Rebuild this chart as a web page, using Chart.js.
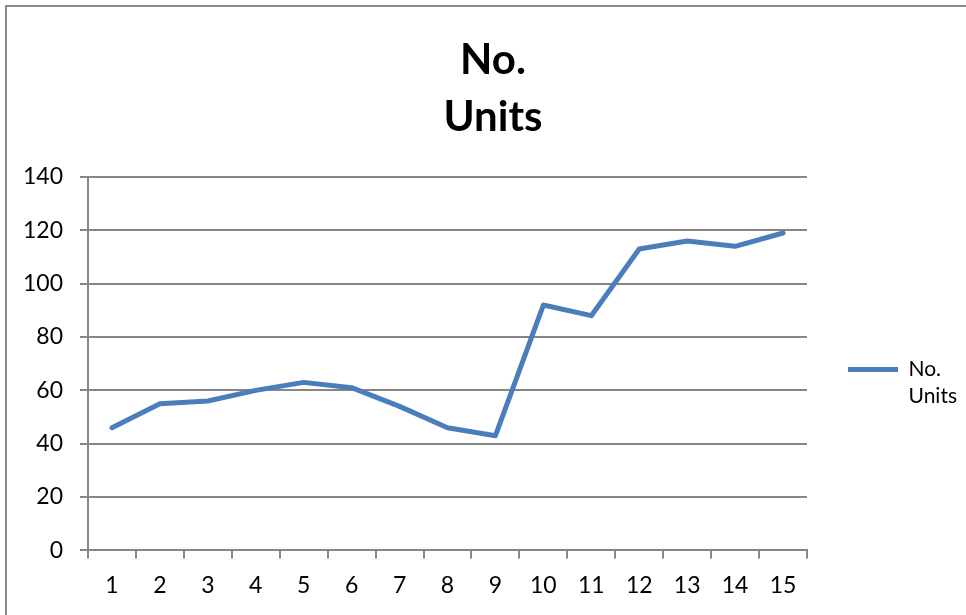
<!DOCTYPE html>
<html>
<head>
<meta charset="utf-8">
<script src="https://cdn.jsdelivr.net/npm/chart.js@4"></script>
<style>
  html, body { margin: 0; padding: 0; background: #ffffff; }
  #wrap { position: relative; width: 966px; height: 615px; overflow: hidden; }
  #frame { position: absolute; left: 5px; top: 5px; width: 1200px; height: 1200px;
           border-left: 2px solid #8a8a8a; border-top: 2px solid #8a8a8a; }
  #c { position: absolute; left: 0; top: 0; }
</style>
</head>
<body>
<div id="wrap">
  <div id="frame"></div>
  <canvas id="c" width="966" height="615"></canvas>
</div>
<script>
const categories = ['1','2','3','4','5','6','7','8','9','10','11','12','13','14','15'];
const unitValues = [46, 55, 56, 60, 63, 61, 54, 46, 43, 92, 88, 113, 116, 114, 119];
const seriesLabel = ['No.', 'Units'];
const titleLines = ['No.', 'Units'];
const yTicks = [0, 20, 40, 60, 80, 100, 120, 140];

const GRAY = '#868686';
const BLUE = '#4A7EBB';
const FONT = 'Lato, "Open Sans", sans-serif';

new Chart(document.getElementById('c'), {
  type: 'line',
  data: {
    labels: categories,
    datasets: [{
      label: seriesLabel,
      data: unitValues,
      borderColor: BLUE,
      backgroundColor: BLUE,
      borderWidth: 5,
      borderCapStyle: 'round',
      borderJoinStyle: 'round',
      pointRadius: 0,
      pointHoverRadius: 0,
      tension: 0,
      fill: false
    }]
  },
  options: {
    responsive: false,
    animation: false,
    devicePixelRatio: 1,
    layout: { padding: { left: 23, right: 3, top: 0, bottom: 3 } },
    plugins: {
      tooltip: { enabled: false },
      title: {
        display: true,
        text: titleLines,
        color: '#000000',
        font: { family: FONT, size: 42, weight: 'bold', lineHeight: 1.357 },
        padding: { top: 31.5, bottom: 31.5 }
      },
      legend: {
        display: true,
        position: 'right',
        fullSize: false,
        maxWidth: 156,
        title: {
          display: true,
          text: ' ',
          font: { family: FONT, size: 10, lineHeight: 1.2 },
          padding: { top: 33, bottom: 0 }
        },
        labels: {
          usePointStyle: true,
          pointStyle: 'line',
          pointStyleWidth: 50,
          padding: 41,
          color: '#000000',
          font: { family: FONT, size: 21, lineHeight: 1.3 }
        }
      }
    },
    scales: {
      x: {
        type: 'category',
        offset: true,
        grid: {
          offset: true,
          drawOnChartArea: false,
          drawTicks: true,
          tickLength: 8,
          color: GRAY,
          lineWidth: 2
        },
        border: { display: true, color: GRAY, width: 2 },
        ticks: {
          color: '#000000',
          padding: 13,
          maxRotation: 0,
          autoSkip: false,
          font: { family: FONT, size: 23 }
        }
      },
      y: {
        min: 0,
        max: 140,
        afterFit: (scale) => { scale.width = 88 - 23; },
        afterBuildTicks: (scale) => { scale.ticks = yTicks.map(v => ({ value: v })); },
        grid: {
          drawTicks: true,
          tickLength: 8,
          color: GRAY,
          lineWidth: 2
        },
        border: { display: true, color: GRAY, width: 2 },
        ticks: {
          color: '#000000',
          padding: 17,
          font: { family: FONT, size: 23 }
        }
      }
    }
  }
});
</script>
</body>
</html>
